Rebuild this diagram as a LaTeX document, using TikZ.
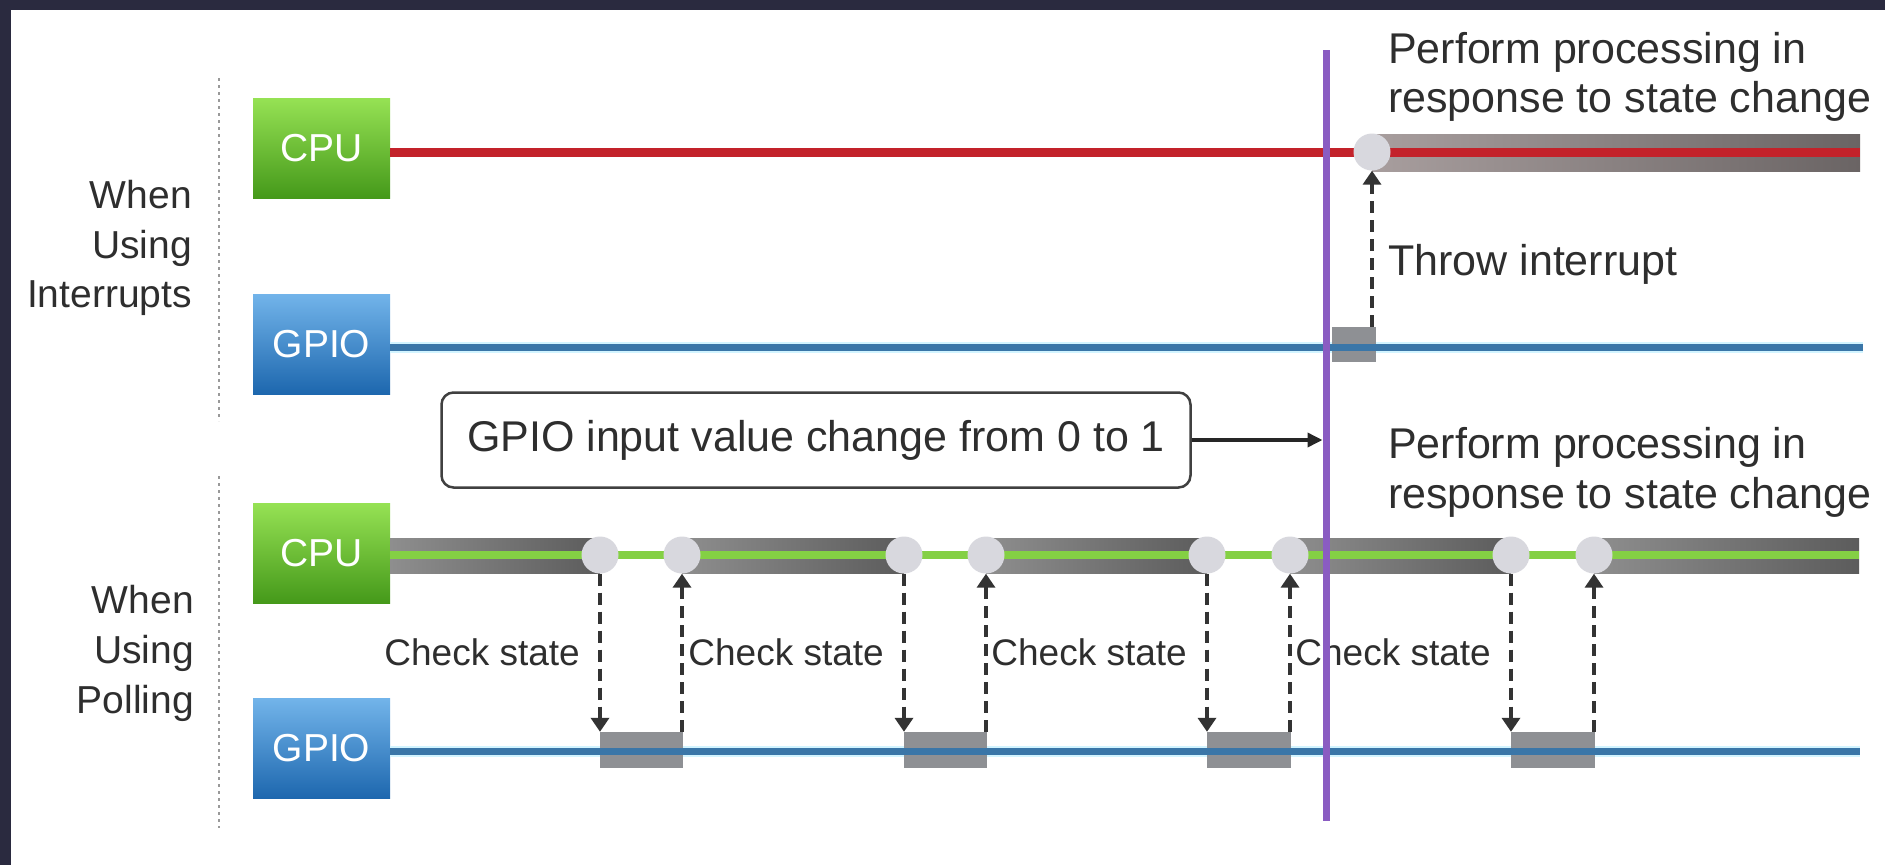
\documentclass[tikz,border=0pt]{standalone}
\usepackage{fontspec}
\setmainfont{Liberation Sans}
\usetikzlibrary{arrows.meta,calc}
\definecolor{framec}{HTML}{2A2A3F}
\definecolor{txt}{HTML}{2E2E2E}
\definecolor{redl}{HTML}{C3222A}
\definecolor{bluel}{HTML}{3A76A8}
\definecolor{haloc}{HTML}{D2F4FF}
\definecolor{purp}{HTML}{8A5CC2}
\definecolor{greenl}{HTML}{84D044}
\definecolor{dotg}{HTML}{D8D8DE}
\definecolor{rectg}{HTML}{8E9094}
\definecolor{cpuTop}{HTML}{96E254}
\definecolor{cpuBot}{HTML}{45991A}
\definecolor{gpTop}{HTML}{72B4EA}
\definecolor{gpBot}{HTML}{1D67AE}
\definecolor{bandL}{HTML}{8E8E8E}
\definecolor{bandR}{HTML}{5C5C5C}
\definecolor{rbandL}{HTML}{A89E9E}
\definecolor{rbandR}{HTML}{6A6464}
\begin{document}
\begin{tikzpicture}[x=1pt,y=-1pt,
  unitbox/.style={minimum width=137pt, minimum height=100pt, inner sep=0pt, text=white, font=\fontsize{39}{39}\selectfont},
  cpubox/.style={unitbox, top color=cpuTop, bottom color=cpuBot},
  gpiobox/.style={unitbox, top color=gpTop, bottom color=gpBot},
  sidelbl/.style={font=\fontsize{39}{50}\selectfont, text=txt, inner sep=0pt, anchor=base east},
  note/.style={font=\fontsize{43}{50}\selectfont, text=txt, inner sep=0pt, anchor=base west},
  chk/.style={font=\fontsize{37}{40}\selectfont, text=txt, inner sep=0pt, anchor=base east},
  dot/.style={circle, fill=dotg, minimum size=37pt, inner sep=0pt},
  busy/.style={fill=rectg, minimum height=36pt, inner sep=0pt},
  dasharrow/.style={draw=black!80, line width=4.5pt, dash pattern=on 12pt off 7pt, -{Triangle[width=18pt,length=14pt]}},
  redline/.style={draw=redl, line width=9pt},
  greenline/.style={draw=greenl, line width=8pt},
  haloline/.style={draw=haloc, line width=11pt},
  blueline/.style={draw=bluel, line width=7pt},
  sepline/.style={draw=black!40, line width=1.5pt, dash pattern=on 3pt off 4pt},
  evtbox/.style={draw=black!75, line width=2.5pt, rounded corners=12pt, fill=white, minimum width=749pt, minimum height=95pt, inner sep=0pt, text=txt, font=\fontsize{43}{43}\selectfont},
  evtarrow/.style={draw=black!85, line width=3.5pt, -{Triangle[width=14pt,length=15pt]}},
  purpline/.style={draw=purp, line width=7pt}
]
\useasboundingbox (0,0) rectangle (1885,865);
\fill[white] (0,0) rectangle (1885,865);
\fill[framec] (0,0) rectangle (1885,10);
\fill[framec] (0,0) rectangle (11,865);

% separators
\coordinate (s1a) at (219,78);  \coordinate (s1b) at (219,421);
\coordinate (s2a) at (219,476); \coordinate (s2b) at (219,828);
\draw[sepline] (s1a) -- (s1b);
\draw[sepline] (s2a) -- (s2b);

% side labels
\node[sidelbl] (wi1) at (192,208) {When};
\node[sidelbl] (wi2) at (192,258) {Using};
\node[sidelbl] (wi3) at (192,307) {Interrupts};
\node[sidelbl] (wp1) at (194,613) {When};
\node[sidelbl] (wp2) at (194,663) {Using};
\node[sidelbl] (wp3) at (194,713) {Polling};

% unit boxes
\node[cpubox]  (cpu1)  at (321.5,148) {CPU};
\node[gpiobox] (gpio1) at (321.5,344) {GPIO};
\node[cpubox]  (cpu2)  at (321.5,553) {CPU};
\node[gpiobox] (gpio2) at (321.5,748.5) {GPIO};

% ---------- interrupts ----------
\coordinate (c1) at (1372,152);
\coordinate (tend) at (1860,152);
\coordinate (bend1) at (1863,347);
\draw[redline] (cpu1.east |- c1) -- (c1);
\shade[left color=rbandL, right color=rbandR] ($(c1)+(0,-18)$) rectangle ($(tend)+(0,19)$);
\draw[redline] (c1) -- (tend);
\node[dot] (dc1) at (c1) {};
\draw[haloline] (gpio1.east |- bend1) -- (bend1);
\node[busy, minimum width=44pt, minimum height=35pt] (r0) at (1354,344.5) {};
\draw[blueline] (gpio1.east |- bend1) -- (bend1);
\draw[dasharrow] (dc1.south |- r0.north) -- (dc1.south);
\node[note] (pa1) at (1388,63) {Perform processing in};
\node[note] (pa2) at (1388,112) {response to state change};
\node[note] (thr) at (1388,275) {Throw interrupt};

% event box
\coordinate (ptop) at (1326,50);
\coordinate (pbot) at (1326,821);
\node[evtbox] (evt) at (816,440) {GPIO input value change from 0 to 1};
\draw[evtarrow, shorten >=3.5pt] (evt.east) -- (evt.east -| ptop);

% ---------- polling ----------
\coordinate (p1a) at (600,555);  \coordinate (p1b) at (682,555);
\coordinate (p2a) at (904,555);  \coordinate (p2b) at (986,555);
\coordinate (p3a) at (1207,555); \coordinate (p3b) at (1290,555);
\coordinate (p4a) at (1511,555); \coordinate (p4b) at (1594,555);
\coordinate (bend2) at (1859,555);
\coordinate (bend3) at (1860,751);
\foreach \s/\e in {cpu2.east |- p1a/p1a, p1b/p2a, p2b/p3a, p3b/p4a, p4b/bend2}{
  \shade[left color=bandL, right color=bandR] ($(\s)+(0,-17)$) rectangle ($(\e)+(0,18)$);
}
\draw[greenline] (cpu2.east |- bend2) -- (bend2);
\foreach \n in {1a,1b,2a,2b,3a,3b,4a,4b}{
  \node[dot] (d\n) at (p\n) {};
}
\draw[haloline] (gpio2.east |- bend3) -- (bend3);
\node[busy, minimum width=83pt] (g1) at (641,750) {};
\node[busy, minimum width=83pt] (g2) at (945,750) {};
\node[busy, minimum width=84pt] (g3) at (1248.5,750) {};
\node[busy, minimum width=84pt] (g4) at (1552.5,750) {};
\draw[blueline] (gpio2.east |- bend3) -- (bend3);
\foreach \i in {1,2,3,4}{
  \draw[dasharrow] (d\i a.south) -- (d\i a.south |- g\i.north);
  \draw[dasharrow] (d\i b.south |- g\i.north) -- (d\i b.south);
}
\node[chk] (k1) at (580,665) {Check state};
\node[chk] (k2) at (884,665) {Check state};
\node[chk] (k3) at (1187,665) {Check state};
\node[chk] (k4) at (1491,665) {Check state};
\node[note] (pb1) at (1388,458) {Perform processing in};
\node[note] (pb2) at (1388,508) {response to state change};

% event time line
\draw[purpline] (ptop) -- (pbot);
\end{tikzpicture}
\end{document}
